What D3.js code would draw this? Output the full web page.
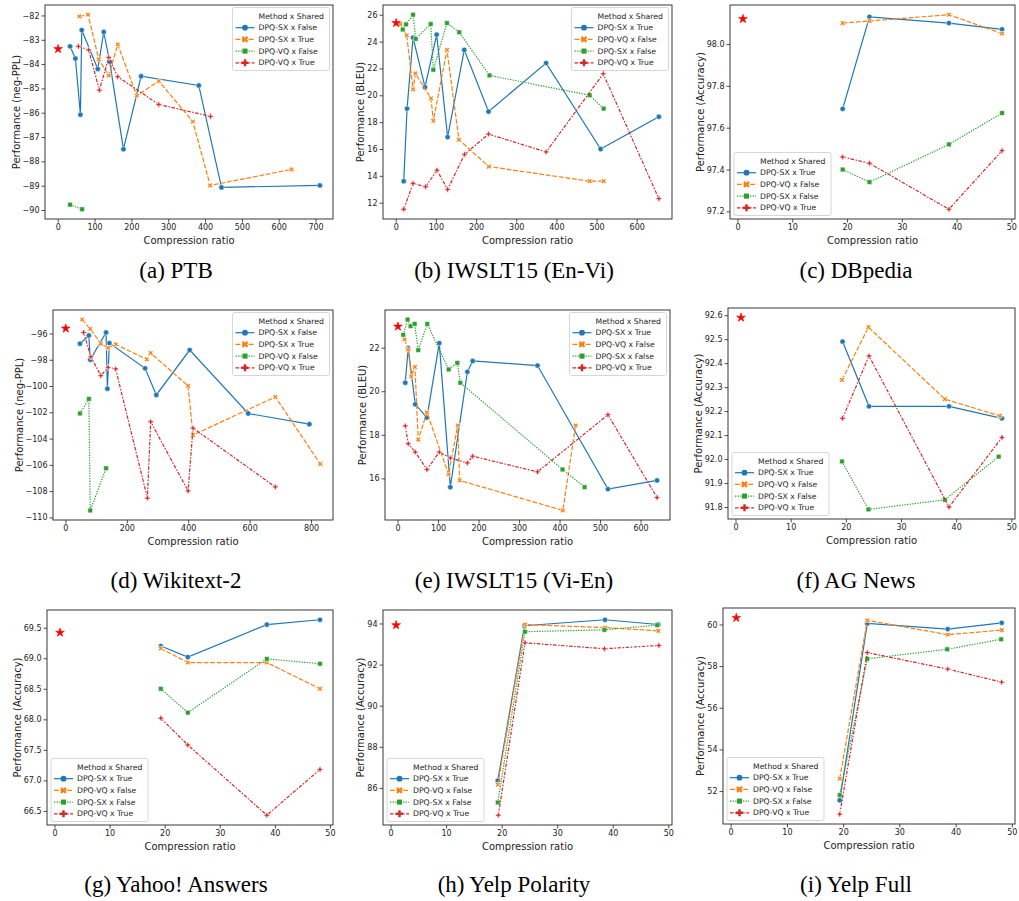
<!DOCTYPE html>
<html>
<head>
<meta charset="utf-8">
<script src="https://cdn.jsdelivr.net/npm/d3@7"></script>
<style>
  body { margin: 0; background: #fff; }
  svg { display: block; }
</style>
</head>
<body>
<svg id="fig" width="1019" height="901"></svg>
<script>
// ---- data: [compression ratio, performance] ----
// (a) PTB
const ptbSxFalse = [[33.5,-83.27],[48,-83.77],[61.6,-86.08],[65.2,-82.6],[108.7,-84.2],[125,-82.68],[141,-83.9],[178.4,-87.5],[226.4,-84.5],[383,-84.88],[444.6,-89.07],[711.8,-88.99]];
const ptbSxTrue = [[58.9,-82.04],[82.4,-81.97],[111.4,-83.8],[138.5,-84.47],[163,-83.19],[214.6,-85.3],[274.4,-84.7],[366.7,-86.36],[413.8,-88.99],[635,-88.33]];
const ptbVqFalse = [[33.5,-89.78],[66.1,-89.97]];
const ptbVqTrue = [[56,-83.27],[84,-83.42],[113,-85.07],[138.5,-83.73],[163,-84.52],[274.4,-85.66],[414.7,-86.15]];

// (b) IWSLT15 En-Vi
const enviSxTrue = [[19.9,13.6],[28.2,19.01],[43.1,24.3],[72.9,20.6],[101.9,24.52],[129.2,16.89],[170.6,23.38],[231,18.79],[374.3,22.4],[510.1,16.0],[655.1,18.4]];
const enviVqFalse = [[11.6,25.3],[27.3,24.47],[43.1,20.44],[48.9,21.63],[87.8,19.78],[93.6,18.1],[127.5,23.38],[157.3,16.69],[231.9,14.69],[482.8,13.6],[517.6,13.6]];
const enviSxFalse = [[17.4,24.9],[25.7,25.28],[43.1,26.0],[49.7,24.2],[87,25.31],[93.6,21.9],[127.5,25.38],[158.2,24.69],[233.5,21.48],[482.8,20.0],[517.6,19.01]];
const enviVqTrue = [[19.9,11.51],[43.1,13.43],[74.5,13.19],[102.7,14.42],[129.2,12.99],[171.4,15.6],[231,17.11],[374.3,15.78],[516.6,21.6],[655.1,12.3]];

// (c) DBpedia
const dbpSxTrue = [[19.2,97.69],[24.1,98.13],[38.6,98.1],[48.3,98.07]];
const dbpVqFalse = [[19.2,98.1],[24.1,98.11],[38.6,98.14],[48.3,98.05]];
const dbpSxFalse = [[19.2,97.4],[24.1,97.34],[38.6,97.52],[48.3,97.67]];
const dbpVqTrue = [[19.2,97.46],[24.1,97.43],[38.6,97.21],[48.3,97.49]];

// (d) Wikitext-2
const wikiSxFalse = [[47.4,-96.78],[76.4,-96.15],[80.8,-98.0],[132.4,-95.92],[136.7,-100.2],[143.2,-96.73],[259.5,-98.65],[296.1,-100.68],[404.8,-97.26],[595.4,-102.09],[794.6,-102.9]];
const wikiSxTrue = [[54.9,-94.94],[80.8,-95.65],[115.2,-96.78],[138.9,-97.09],[163.7,-96.83],[264.9,-97.97],[277.8,-97.49],[399.5,-99.99],[415.6,-103.73],[683.7,-100.83],[830.1,-105.93]];
const wikiVqFalse = [[47.4,-102.09],[76.4,-100.98],[80.8,-109.47],[132.4,-106.26]];
const wikiVqTrue = [[59.2,-95.92],[82.9,-97.77],[115.2,-99.21],[138.9,-98.58],[163.7,-98.7],[267,-108.53],[277.8,-102.72],[399.5,-107.98],[415.6,-103.2],[683.7,-107.68]];

// (e) IWSLT15 Vi-En
const vienSxTrue = [[19,20.39],[26.4,21.98],[43.7,19.4],[72.6,18.79],[103.1,22.21],[130.3,15.6],[172.4,20.89],[185.6,21.39],[345.6,21.18],[519.6,15.51],[640.8,15.91]];
const vienVqFalse = [[17.3,22.38],[26.4,21.91],[33.8,20.68],[42.9,21.12],[51.1,17.78],[72.6,19.03],[126.2,16.18],[148.5,18.43],[153.4,15.91],[408.2,14.53],[439.6,18.43]];
const vienSxFalse = [[14,22.59],[24.7,23.29],[32.2,22.99],[42.1,23.09],[51.1,21.89],[73.4,23.09],[126.2,21.0],[147.6,21.3],[155,20.39],[407.4,16.41],[461.9,15.6]];
const vienVqTrue = [[19,18.41],[26.4,17.59],[43.7,17.21],[72.6,16.41],[103.1,17.21],[130.3,16.94],[172.4,16.71],[185.6,17.02],[345.6,16.3],[519.6,18.92],[640.8,15.12]];

// (f) AG News
const agSxTrue = [[19.4,92.49],[24.2,92.22],[38.7,92.22],[48.3,92.17]];
const agVqFalse = [[19.3,92.33],[24.1,92.55],[37.95,92.25],[47.9,92.18]];
const agSxFalse = [[19.3,91.99],[24.1,91.79],[37.95,91.83],[47.7,92.01]];
const agVqTrue = [[19.4,92.17],[24.2,92.43],[38.7,91.8],[48.3,92.09]];

// (g) Yahoo! Answers
const yahooSxTrue = [[19.3,69.2],[24.2,69.02],[38.55,69.55],[48.2,69.63]];
const yahooVqFalse = [[19.3,69.16],[24.2,68.93],[38.55,68.93],[48.2,68.5]];
const yahooSxFalse = [[19.3,68.5],[24.2,68.11],[38.55,68.99],[48.2,68.91]];
const yahooVqTrue = [[19.3,68.02],[24.2,67.58],[38.55,66.43],[48.2,67.18]];

// (h) Yelp Polarity
const ypSxTrue = [[19.3,86.35],[24.1,93.89],[38.6,94.18],[48.2,93.95]];
const ypVqFalse = [[19.3,86.16],[24.2,93.95],[38.6,93.8],[48.2,93.64]];
const ypSxFalse = [[19.3,85.29],[24.2,93.6],[38.5,93.69],[48.0,93.92]];
const ypVqTrue = [[19.4,84.67],[24.2,93.06],[38.5,92.77],[48.3,92.93]];

// (i) Yelp Full
const yfSxTrue = [[19.4,51.56],[24.3,60.05],[38.6,59.78],[48.2,60.08]];
const yfVqFalse = [[19.4,52.6],[24.3,60.2],[38.6,59.51],[48.2,59.73]];
const yfSxFalse = [[19.4,51.81],[24.3,58.35],[38.5,58.81],[48.1,59.29]];
const yfVqTrue = [[19.4,50.89],[24.3,58.65],[38.6,57.86],[48.2,57.23]];

// uncompressed full model (red star), one per panel a..i
const fullModel = [[1,-83.38],[1,25.38],[1,98.12],[1,-95.62],[1,22.97],[1,92.59],[1,69.42],[1,93.92],[1,60.32]];

// legend labels
const legendLm = ["DPQ-SX x False", "DPQ-SX x True", "DPQ-VQ x False", "DPQ-VQ x True"];
const legendOther = ["DPQ-SX x True", "DPQ-VQ x False", "DPQ-SX x False", "DPQ-VQ x True"];

// tick values
const xTicksPtb = [0, 100, 200, 300, 400, 500, 600, 700];
const yTicksPtb = [-90, -89, -88, -87, -86, -85, -84, -83, -82];
const xTicksMt = [0, 100, 200, 300, 400, 500, 600];
const yTicksEnvi = [12, 14, 16, 18, 20, 22, 24, 26];
const xTicksCls = [0, 10, 20, 30, 40, 50];
const yTicksDbp = [97.2, 97.4, 97.6, 97.8, 98.0];
const xTicksWiki = [0, 200, 400, 600, 800];
const yTicksWiki = [-110, -108, -106, -104, -102, -100, -98, -96];
const yTicksVien = [16, 18, 20, 22];
const yTicksAg = [91.8, 91.9, 92.0, 92.1, 92.2, 92.3, 92.4, 92.5, 92.6];
const yTicksYahoo = [66.5, 67.0, 67.5, 68.0, 68.5, 69.0, 69.5];
const yTicksYp = [86, 88, 90, 92, 94];
const yTicksYf = [52, 54, 56, 58, 60];

// ---- layout ----
const panels = [
  { cap: "(a) PTB", ylab: "Performance (neg-PPL)", series: [ptbSxFalse, ptbSxTrue, ptbVqFalse, ptbVqTrue], names: legendLm,
    star: fullModel[0], xt: xTicksPtb, yt: yTicksPtb, yf: "d", box: [45, 5, 333, 219], leg: "ur", cx: 176, capY: 278 },
  { cap: "(b) IWSLT15 (En-Vi)", ylab: "Performance (BLEU)", series: [enviSxTrue, enviVqFalse, enviSxFalse, enviVqTrue], names: legendOther,
    star: fullModel[1], xt: xTicksMt, yt: yTicksEnvi, yf: "d", box: [383, 5, 672, 219], leg: "ur", cx: 514, capY: 278 },
  { cap: "(c) DBpedia", ylab: "Performance (Accuracy)", series: [dbpSxTrue, dbpVqFalse, dbpSxFalse, dbpVqTrue], names: legendOther,
    star: fullModel[2], xt: xTicksCls, yt: yTicksDbp, yf: ".1f", box: [730, 5, 1015, 219], leg: "ll", cx: 856, capY: 278 },
  { cap: "(d) Wikitext-2", ylab: "Performance (neg-PPL)", series: [wikiSxFalse, wikiSxTrue, wikiVqFalse, wikiVqTrue], names: legendLm,
    star: fullModel[3], xt: xTicksWiki, yt: yTicksWiki, yf: "d", box: [53, 310, 333, 520], leg: "ur", cx: 176, capY: 588 },
  { cap: "(e) IWSLT15 (Vi-En)", ylab: "Performance (BLEU)", series: [vienSxTrue, vienVqFalse, vienSxFalse, vienVqTrue], names: legendOther,
    star: fullModel[4], xt: xTicksMt, yt: yTicksVien, yf: "d", box: [385, 310, 670, 520], leg: "ur", cx: 514, capY: 588 },
  { cap: "(f) AG News", ylab: "Performance (Accuracy)", series: [agSxTrue, agVqFalse, agSxFalse, agVqTrue], names: legendOther,
    star: fullModel[5], xt: xTicksCls, yt: yTicksAg, yf: ".1f", box: [728, 308, 1015, 519], leg: "ll", cx: 856, capY: 588 },
  { cap: "(g) Yahoo! Answers", ylab: "Performance (Accuracy)", series: [yahooSxTrue, yahooVqFalse, yahooSxFalse, yahooVqTrue], names: legendOther,
    star: fullModel[6], xt: xTicksCls, yt: yTicksYahoo, yf: ".1f", box: [47, 610, 333, 825], leg: "ll", cx: 176, capY: 892 },
  { cap: "(h) Yelp Polarity", ylab: "Performance (Accuracy)", series: [ypSxTrue, ypVqFalse, ypSxFalse, ypVqTrue], names: legendOther,
    star: fullModel[7], xt: xTicksCls, yt: yTicksYp, yf: "d", box: [383, 610, 672, 825], leg: "ll", cx: 514, capY: 892 },
  { cap: "(i) Yelp Full", ylab: "Performance (Accuracy)", series: [yfSxTrue, yfVqFalse, yfSxFalse, yfVqTrue], names: legendOther,
    star: fullModel[8], xt: xTicksCls, yt: yTicksYf, yf: "d", box: [723, 608, 1015, 824], leg: "ll", cx: 856, capY: 892 },
];

// seaborn-like styles: colour, dash pattern, marker per hue level
const styles = [
  { color: "#1f77b4", dash: null, mark: d3.symbolCircle, rot: 0, size: 22 },
  { color: "#ff7f0e", dash: "4.8,1.8", mark: d3.symbolCross, rot: 45, size: 17 },
  { color: "#2ca02c", dash: "1.3,1.3", mark: d3.symbolSquare, rot: 0, size: 22 },
  { color: "#d62728", dash: "3.6,1.5,1.5,1.5", mark: d3.symbolCross, rot: 0, size: 17 },
];

const FONT = "DejaVu Sans, sans-serif";
const INK = "#222";
const svg = d3.select("#fig");

function padExtent(ext) {
  const r = ext[1] - ext[0];
  return [ext[0] - 0.05 * r, ext[1] + 0.05 * r];
}

panels.forEach((p) => {
  const [L, T, R, B] = p.box;
  const allPts = p.series.flat().concat([p.star]);

  const x = d3.scaleLinear().domain(padExtent(d3.extent(allPts, (d) => d[0]))).range([L, R]);
  const y = d3.scaleLinear().domain(padExtent(d3.extent(allPts, (d) => d[1]))).range([B, T]);

  const g = svg.append("g");

  // axes
  const xa = g.append("g")
    .attr("transform", `translate(0,${B})`)
    .call(d3.axisBottom(x).tickValues(p.xt).tickSize(3.5).tickPadding(2).tickFormat(d3.format("d")));
  const ya = g.append("g")
    .attr("transform", `translate(${L},0)`)
    .call(d3.axisLeft(y).tickValues(p.yt).tickSize(3.5).tickPadding(2).tickFormat(d3.format(p.yf)));

  [xa, ya].forEach((a) => {
    a.attr("font-family", FONT).attr("font-size", 8);
    a.select(".domain").remove();
    a.selectAll(".tick line").attr("stroke", INK).attr("stroke-width", 0.8);
    a.selectAll(".tick text").attr("fill", INK);
  });

  // frame
  g.append("rect")
    .attr("x", L).attr("y", T)
    .attr("width", R - L).attr("height", B - T)
    .attr("fill", "none")
    .attr("stroke", INK)
    .attr("stroke-width", 0.9);

  // axis labels
  g.append("text")
    .attr("x", (L + R) / 2)
    .attr("y", B + 25)
    .attr("text-anchor", "middle")
    .attr("font-family", FONT)
    .attr("font-size", 10)
    .attr("fill", INK)
    .text("Compression ratio");

  const yw = ya.node().getBBox().width;
  g.append("text")
    .attr("transform", `translate(${L - yw - 3},${(T + B) / 2}) rotate(-90)`)
    .attr("text-anchor", "middle")
    .attr("font-family", FONT)
    .attr("font-size", 10)
    .attr("fill", INK)
    .text(p.ylab);

  // series lines + markers
  const line = d3.line().x((d) => x(d[0])).y((d) => y(d[1]));
  p.series.forEach((s, i) => {
    const st = styles[i];
    const pts = d3.sort(s, (d) => d[0]);
    g.append("path")
      .datum(pts)
      .attr("d", line)
      .attr("fill", "none")
      .attr("stroke", st.color)
      .attr("stroke-width", 1.2)
      .attr("stroke-dasharray", st.dash);
    g.selectAll(null)
      .data(pts)
      .enter()
      .append("path")
      .attr("d", d3.symbol().type(st.mark).size(st.size))
      .attr("transform", (d) => `translate(${x(d[0])},${y(d[1])}) rotate(${st.rot})`)
      .attr("fill", st.color)
      .attr("stroke", "white")
      .attr("stroke-width", st.mark === d3.symbolCross ? 0.7 : 0.5);
  });

  // full model star
  g.append("path")
    .attr("d", d3.symbol().type(d3.symbolStar).size(24))
    .attr("transform", `translate(${x(p.star[0])},${y(p.star[1])})`)
    .attr("fill", "#ff0000")
    .attr("stroke", "#ff0000")
    .attr("stroke-width", 0.6);

  // legend
  const lw = 97, lh = 63;
  const lx = p.leg === "ur" ? R - 3.5 - lw : L + 4;
  const ly = p.leg === "ur" ? T + 2.5 : B - 3.5 - lh;
  const lg = g.append("g").attr("transform", `translate(${lx},${ly})`)
    .attr("font-family", FONT).attr("font-size", 7.7).attr("fill", INK);
  lg.append("rect")
    .attr("width", lw).attr("height", lh)
    .attr("rx", 2)
    .attr("fill", "white").attr("fill-opacity", 0.8)
    .attr("stroke", "#cccccc").attr("stroke-width", 0.8);
  lg.append("text").attr("x", 26).attr("y", 8.5).attr("dy", "0.35em").text("Method x Shared");
  p.names.forEach((n, i) => {
    const st = styles[i];
    const cy = 8.5 + 11.7 * (i + 1);
    lg.append("line")
      .attr("x1", 3).attr("x2", 22).attr("y1", cy).attr("y2", cy)
      .attr("stroke", st.color).attr("stroke-width", 1.2)
      .attr("stroke-dasharray", st.dash);
    lg.append("path")
      .attr("d", d3.symbol().type(st.mark).size(st.mark === d3.symbolCross ? 28 : 26))
      .attr("transform", `translate(12.5,${cy}) rotate(${st.rot})`)
      .attr("fill", st.color);
    lg.append("text").attr("x", 26).attr("y", cy).attr("dy", "0.35em").text(n);
  });

  // caption
  svg.append("text")
    .attr("x", p.cx)
    .attr("y", p.capY)
    .attr("text-anchor", "middle")
    .attr("font-family", "Liberation Serif, Times New Roman, serif")
    .attr("font-size", 23)
    .attr("fill", "#000")
    .text(p.cap);
});
</script>
</body>
</html>
